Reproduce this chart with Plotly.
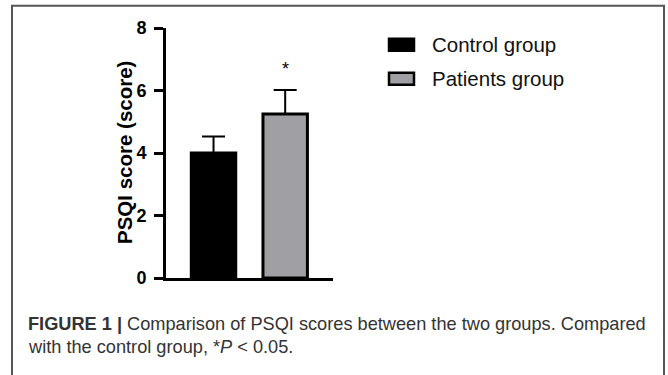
import plotly.graph_objects as go

# ---- data ----
groups = ["Control group", "Patients group"]
means = [4.0, 5.25]
sds = [0.53, 0.77]
bar_colors = ["#000000", "#a0a0a4"]
y_ticks = [0, 2, 4, 6, 8]
sig_marks = ["", "*"]

W, H = 668, 375
L, R = 166, 333          # plot area in px
T, B = 28.3, 277.7

def px_x(px):
    return (px - L) / (R - L)

def px_y(py):
    return (B - py) / (B - T)

FONT = "Liberation Sans, Arial"

fig = go.Figure()
for i, g in enumerate(groups):
    fig.add_trace(go.Bar(
        x=[i], y=[means[i]], name=g,
        width=0.62,
        marker=dict(color=bar_colors[i], line=dict(color="#000000", width=3)),
        error_y=dict(type="data", symmetric=False, array=[sds[i]], arrayminus=[0],
                     color="#000000", thickness=2, width=11.5),
        showlegend=False,
    ))

# significance marks
for i, s in enumerate(sig_marks):
    if s:
        fig.add_annotation(x=i, y=means[i] + sds[i] + 0.68, text=s, showarrow=False,
                           font=dict(family=FONT, size=18, color="#000"),
                           xref="x", yref="y")

# custom legend
leg_y = [45, 79]
for i, g in enumerate(groups):
    cy = leg_y[i]
    fig.add_shape(type="rect", xref="paper", yref="paper",
                  x0=px_x(389), x1=px_x(414), y0=px_y(cy - 6), y1=px_y(cy + 6),
                  fillcolor=bar_colors[i], line=dict(color="#000000", width=2.5))
    fig.add_annotation(xref="paper", yref="paper", x=px_x(430), y=px_y(cy),
                       xanchor="left", yanchor="middle", text=g, showarrow=False,
                       font=dict(family=FONT, size=20.5, color="#111"))

# y title
fig.add_annotation(xref="paper", yref="paper", x=px_x(124), y=0.5, text="<b>PSQI score (score)</b>",
                   textangle=-90, showarrow=False, xanchor="center", yanchor="middle",
                   font=dict(family=FONT, size=20.5, color="#000"))

# frame (open at the bottom, cut by the image edge)
fig.add_shape(type="path", xref="paper", yref="paper",
              path=f"M {px_x(12)} {px_y(400)} L {px_x(12)} {px_y(6)} L {px_x(664)} {px_y(6)} L {px_x(664)} {px_y(400)}",
              line=dict(color="#555555", width=2), fillcolor="rgba(0,0,0,0)", layer="above")

# caption
fig.add_annotation(xref="paper", yref="paper", x=px_x(26), y=px_y(324), xanchor="left", yanchor="middle",
                   text="<b>FIGURE 1 |</b> Comparison of PSQI scores between the two groups. Compared",
                   showarrow=False, font=dict(family=FONT, size=18.2, color="#333"))
fig.add_annotation(xref="paper", yref="paper", x=px_x(26), y=px_y(347), xanchor="left", yanchor="middle",
                   text="with the control group, *<i>P</i> &lt; 0.05.",
                   showarrow=False, font=dict(family=FONT, size=18.2, color="#333"))

fig.update_layout(
    width=W, height=H,
    margin=dict(l=L, r=W - R, t=T, b=H - B, pad=0),
    plot_bgcolor="white", paper_bgcolor="white",
    xaxis=dict(range=[-0.663, 1.667], showticklabels=False, ticks="", showgrid=False, zeroline=False,
               showline=True, linecolor="#000", linewidth=3),
    yaxis=dict(range=[0, 8], tickvals=y_ticks, ticks="outside", ticklen=9, tickwidth=3, tickcolor="#000",
               showgrid=False, zeroline=False, showline=True, linecolor="#000", linewidth=3,
               tickfont=dict(family=FONT, size=18, color="#000", weight="bold"),
               ticklabelstandoff=4),
)

fig.write_html("out.html", config={"displayModeBar": False},
               post_script="document.body.style.margin='0';document.body.style.overflow='hidden';")
